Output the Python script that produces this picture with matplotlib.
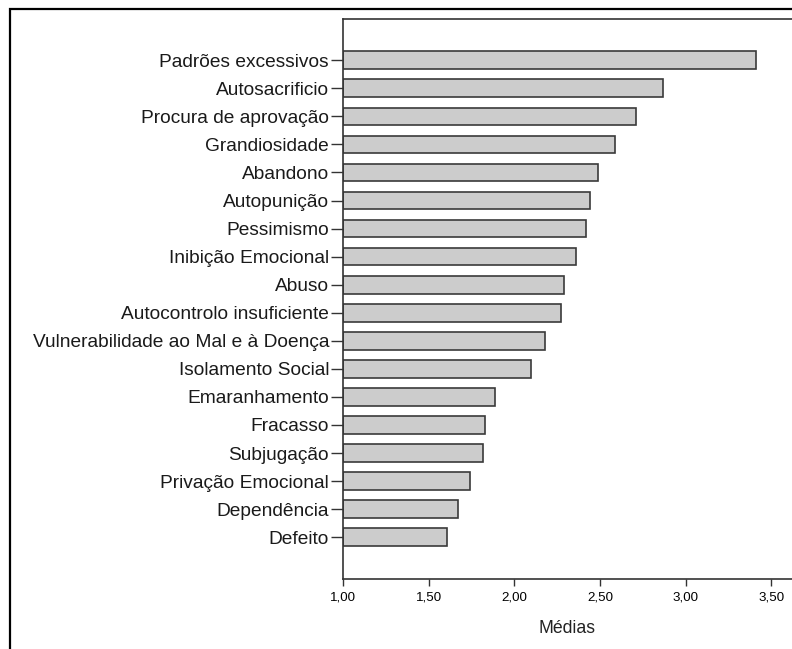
import matplotlib
matplotlib.use("Agg")
import matplotlib.pyplot as plt
from matplotlib.patches import Rectangle

categories = [
    "Padrões excessivos",
    "Autosacrificio",
    "Procura de aprovação",
    "Grandiosidade",
    "Abandono",
    "Autopunição",
    "Pessimismo",
    "Inibição Emocional",
    "Abuso",
    "Autocontrolo insuficiente",
    "Vulnerabilidade ao Mal e à Doença",
    "Isolamento Social",
    "Emaranhamento",
    "Fracasso",
    "Subjugação",
    "Privação Emocional",
    "Dependência",
    "Defeito",
]
medias = [3.41, 2.87, 2.71, 2.59, 2.49, 2.44, 2.42, 2.36, 2.29,
          2.27, 2.18, 2.10, 1.89, 1.83, 1.82, 1.74, 1.67, 1.61]
xticks = [1.0, 1.5, 2.0, 2.5, 3.0, 3.5]
base = 1.0

plt.rcParams["font.family"] = ["Liberation Sans", "DejaVu Sans"]

W, H = 792, 649
fig = plt.figure(figsize=(W / 100, H / 100), dpi=100)

# outer frame (cropped at right and bottom)
fig.patches.append(Rectangle((9.5 / W, -0.2), 1.5, (H - 9.5) / H + 0.2,
                             transform=fig.transFigure, fill=False,
                             ec="black", lw=1.6))

left, right, top, bottom = 343, 792, 19, 579
ax = fig.add_axes([left / W, (H - bottom) / H, (right - left) / W, (bottom - top) / H])

px_per_unit = 171.3
ax.set_xlim(base, base + (right - left) / px_per_unit)

ypos = list(range(len(categories)))
ax.barh(ypos, [m - base for m in medias], left=base, height=0.63,
        color="#cccccc", edgecolor="#3a3a3a", linewidth=1.2)
ax.set_ylim(17 + 1.49, -1.47)

ax.set_yticks(ypos)
ax.set_yticklabels(categories, fontsize=13.8, color="#1a1a1a")
ax.set_xticks(xticks)
ax.set_xticklabels([f"{t:.2f}".replace(".", ",") for t in xticks], fontsize=9.6)
ax.set_xlabel("Médias", fontsize=12.7, color="#222222", labelpad=12)

ax.tick_params(axis="y", length=9, width=1.0, pad=1, color="#333333")
ax.tick_params(axis="x", length=5, width=1.0, pad=4, color="#333333")

for s in ["left", "bottom", "top"]:
    ax.spines[s].set_color("#333333")
    ax.spines[s].set_linewidth(1.2)
ax.spines["right"].set_visible(False)

fig.savefig("out.png", dpi=100)
